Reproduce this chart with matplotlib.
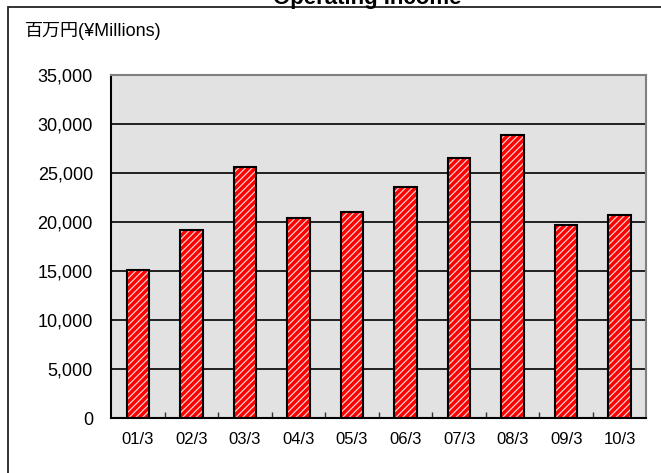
import matplotlib
matplotlib.use("Agg")
import matplotlib.pyplot as plt
from matplotlib.patches import Rectangle
from matplotlib.ticker import FixedLocator, StrMethodFormatter

# ---------------------------
# Data
# ---------------------------
PERIODS = ["01/3", "02/3", "03/3", "04/3", "05/3", "06/3", "07/3", "08/3", "09/3", "10/3"]
OP_INCOME = [15150, 19200, 25550, 20450, 20990, 23510, 26530, 28880, 19660, 20710]
Y_TICKS = [0, 5000, 10000, 15000, 20000, 25000, 30000, 35000]

plt.rcParams['font.family'] = ['Liberation Sans', 'Noto Sans CJK JP', 'DejaVu Sans']
plt.rcParams['hatch.linewidth'] = 0.9

fig = plt.figure(figsize=(6.61, 4.73), dpi=100)
ax = fig.add_axes([0.168, 0.1156, 0.810, 0.7265])

# outer frame (runs off the right/bottom edges like the original)
fig.patches.append(Rectangle((8 / 661, -0.1), 1.2, 1 - 7 / 473 + 0.1,
                             transform=fig.transFigure, fill=False,
                             edgecolor='#222222', linewidth=1.3))

ax.set_facecolor('#e2e2e2')
ax.set_axisbelow(True)
ax.yaxis.grid(True, color='black', linewidth=1.2)

x = range(len(PERIODS))
# red bars with white diagonal stripes, then black outline on top
ax.bar(x, OP_INCOME, width=0.42, color='#ff0000', edgecolor='#ffd0d0',
       hatch='/////', linewidth=0, zorder=2)
ax.bar(x, OP_INCOME, width=0.42, fill=False, edgecolor='black',
       linewidth=1.5, zorder=3)

ax.set_xlim(-0.5, len(PERIODS) - 0.5)
ax.set_ylim(0, 35000)
ax.set_yticks(Y_TICKS)
ax.yaxis.set_major_formatter(StrMethodFormatter('{x:,.0f}'))
ax.set_xticks(list(x))
ax.set_xticklabels(PERIODS)
ax.xaxis.set_minor_locator(FixedLocator([i + 0.5 for i in range(len(PERIODS) - 1)]))
ax.tick_params(axis='x', which='major', length=0, pad=10, labelsize=12)
ax.tick_params(axis='x', which='minor', direction='in', length=4, width=1, color='#333333')
ax.tick_params(axis='y', length=0, pad=13, labelsize=13)

for side in ['left', 'bottom']:
    ax.spines[side].set_color('black')
    ax.spines[side].set_linewidth(1.5)
for side in ['top', 'right']:
    ax.spines[side].set_color('#808080')
    ax.spines[side].set_linewidth(1.5)

fig.text(25 / 661, 1 - 31 / 473, "百万円(¥Millions)", fontsize=13, va='center', ha='left')
fig.text(0.555, 1 - 4 / 473, "Operating Income", fontsize=16, fontweight='bold',
         ha='center', va='baseline')

fig.savefig("out.png", dpi=100)
